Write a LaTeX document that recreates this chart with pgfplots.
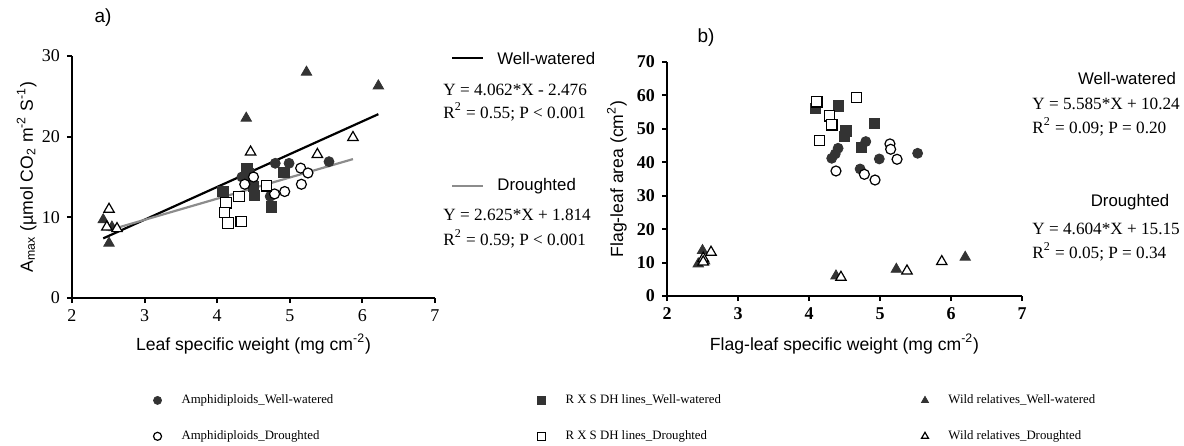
\documentclass[border=0pt]{standalone}
\usepackage{pgfplots}
\pgfplotsset{compat=1.18}
\usepackage{fontspec}
\setmainfont{Liberation Serif}
\newfontfamily\arial{Liberation Sans}
\definecolor{mk}{HTML}{333333}
\definecolor{rg}{HTML}{8C8C8C}

\pgfplotsset{
  panel/.style={
    scale only axis, clip=false,
    axis lines=left, axis line style={-, line width=1pt},
    tick align=outside, major tick length=2.5pt,
    every tick/.style={black, line width=1pt},
    xmin=2, xmax=7, xtick={2,...,7},
    ticklabel style={font=\fontsize{9}{10}\selectfont},
    /pgf/number format/assume math mode=true,
    label style={font=\arial\fontsize{8.8}{10}\selectfont},
  },
  aww/.style={only marks, mark=*, mark size=2.5pt, color=mk, mark options={fill=mk, draw=mk}},
  rww/.style={only marks, mark=square*, mark size=2.6pt, color=mk, mark options={fill=mk, draw=mk}},
  www/.style={only marks, mark=triangle*, mark size=3pt, color=mk, mark options={fill=mk, draw=mk}},
  adr/.style={only marks, mark=*, mark size=2.5pt, color=black, mark options={fill=white, draw=black, line width=0.6pt}},
  rdr/.style={only marks, mark=square*, mark size=2.6pt, color=black, mark options={fill=white, draw=black, line width=0.6pt}},
  wdr/.style={only marks, mark=triangle*, mark size=3pt, color=black, mark options={fill=white, draw=black, line width=0.6pt}},
}

\begin{document}
\begin{tikzpicture}
\path[use as bounding box] (0,0) rectangle (592pt,222.5pt);

% panel a
\begin{axis}[panel,
  at={(36pt,73.5pt)}, anchor=origin, width=181.5pt, height=121pt,
  ymin=0, ymax=30, ytick={0,10,20,30},
  xlabel={Leaf specific weight (mg cm\textsuperscript{-2})},
  ylabel={A\textsubscript{max} (\textmu mol CO\textsubscript{2} m\textsuperscript{-2} S\textsuperscript{-1})},
  xlabel style={at={(axis description cs:0.5,-0.19)}, anchor=center},
  ylabel style={at={(axis description cs:-0.125,0.5)}, anchor=center},
  legend columns=3, legend cell align=left,
  legend image post style={mark size=2pt},
  legend style={draw=none, fill=none, font=\fontsize{6.4}{7}\selectfont,
    at={(axis description cs:0.207,-0.364)}, anchor=north west, row sep=8pt,
    /tikz/every odd column/.append style={column sep=8pt}},
]
\addplot[aww] coordinates {(4.80,16.7) (4.99,16.7) (5.54,16.9) (4.34,15.0) (4.73,12.6) (4.45,15.6)};
\addlegendentry{\makebox[176pt][l]{Amphidiploids\_Well-watered}}
\addplot[rww] coordinates {(4.41,16.1) (4.92,15.6) (4.08,13.2) (4.50,13.8) (4.51,12.7) (4.75,11.3) (4.40,15.2)};
\addlegendentry{\makebox[176pt][l]{R X S DH lines\_Well-watered}}
\addplot[www] coordinates {(5.23,28.0) (4.40,22.3) (2.51,6.8) (2.43,9.7) (6.22,26.3) (2.55,8.8)};
\addlegendentry{Wild relatives\_Well-watered}
\addplot[adr] coordinates {(4.50,15.0) (4.38,14.1) (4.79,12.9) (4.93,13.2) (5.15,16.1) (5.25,15.5) (5.16,14.1)};
\addlegendentry{\makebox[176pt][l]{Amphidiploids\_Droughted}}
\addplot[rdr] coordinates {(4.68,13.9) (4.30,12.6) (4.12,11.8) (4.10,10.6) (4.15,9.3) (4.33,9.5)};
\addlegendentry{\makebox[176pt][l]{R X S DH lines\_Droughted}}
\addplot[wdr] coordinates {(2.51,11.0) (2.48,8.8) (2.62,8.6) (4.46,18.1) (5.38,17.8) (5.87,19.9)};
\addlegendentry{Wild relatives\_Droughted}
\addplot[forget plot, black, line width=1.1pt] coordinates {(2.43,7.39) (6.22,22.79)};
\addplot[forget plot, rg, line width=1.1pt] coordinates {(2.50,8.38) (5.87,17.22)};
\end{axis}

% panel b
\begin{axis}[panel,
  at={(333.5pt,74.5pt)}, anchor=origin, width=177.5pt, height=117pt,
  ymin=0, ymax=70, ytick={0,10,...,70},
  ticklabel style={font=\bfseries\fontsize{9}{10}\selectfont},
  xlabel={Flag-leaf specific weight (mg cm\textsuperscript{-2})},
  ylabel={Flag-leaf area (cm\textsuperscript{2})},
  xlabel style={at={(axis description cs:0.5,-0.205)}, anchor=center},
  ylabel style={at={(axis description cs:-0.141,0.5)}, anchor=center},
]
\addplot[aww] coordinates {(4.41,44.2) (4.37,42.5) (4.32,41.2) (4.80,46.2) (4.99,41.0) (5.53,42.7) (4.72,38.0)};
\addplot[rww] coordinates {(4.09,56.1) (4.41,56.9) (4.52,49.4) (4.50,47.7) (4.92,51.6) (4.74,44.5)};
\addplot[www] coordinates {(4.38,6.0) (5.23,8.0) (6.20,11.6) (2.50,13.6) (2.44,9.6) (2.53,10.5)};
\addplot[adr] coordinates {(5.14,45.5) (5.15,43.9) (5.24,40.9) (4.38,37.4) (4.78,36.4) (4.93,34.7)};
\addplot[rdr] coordinates {(4.11,58.1) (4.67,59.4) (4.29,53.9) (4.32,51.2) (4.15,46.5)};
\addplot[wdr] coordinates {(4.45,5.6) (5.38,7.5) (5.87,10.3) (2.62,13.1) (2.51,11.3) (2.51,10.2)};
\end{axis}

% panel labels
\node[font=\arial\fontsize{9.5}{11}\selectfont] at (51.5pt,213.5pt) {a)};
\node[font=\arial\fontsize{9.5}{11}\selectfont] at (353pt,203.5pt) {b)};

% regression key, panel a
\draw[black, line width=1.1pt] (226pt,193.5pt) -- (241.5pt,193.5pt);
\node[anchor=west, inner sep=0pt, font=\arial\fontsize{8.4}{10}\selectfont] at (248.5pt,193.5pt) {Well-watered};
\node[anchor=west, inner sep=0pt, font=\fontsize{8.6}{10}\selectfont] at (221.5pt,177.5pt) {Y = 4.062*X - 2.476};
\node[anchor=west, inner sep=0pt, font=\fontsize{8.6}{10}\selectfont] at (221.5pt,166.5pt) {R\textsuperscript{2} = 0.55; P < 0.001};
\draw[rg, line width=1.1pt] (226pt,129.5pt) -- (241.5pt,129.5pt);
\node[anchor=west, inner sep=0pt, font=\arial\fontsize{8.4}{10}\selectfont] at (248.5pt,129.5pt) {Droughted};
\node[anchor=west, inner sep=0pt, font=\fontsize{8.6}{10}\selectfont] at (221.5pt,115pt) {Y = 2.625*X + 1.814};
\node[anchor=west, inner sep=0pt, font=\fontsize{8.6}{10}\selectfont] at (221.5pt,103pt) {R\textsuperscript{2} = 0.59; P < 0.001};

% regression key, panel b
\node[inner sep=0pt, font=\arial\fontsize{8.4}{10}\selectfont] at (563.5pt,183.5pt) {Well-watered};
\node[anchor=west, inner sep=0pt, font=\fontsize{8.6}{10}\selectfont] at (516pt,170.5pt) {Y = 5.585*X + 10.24};
\node[anchor=west, inner sep=0pt, font=\fontsize{8.6}{10}\selectfont] at (516pt,159pt) {R\textsuperscript{2} = 0.09; P = 0.20};
\node[inner sep=0pt, font=\arial\fontsize{8.4}{10}\selectfont] at (565pt,121.5pt) {Droughted};
\node[anchor=west, inner sep=0pt, font=\fontsize{8.6}{10}\selectfont] at (516pt,108pt) {Y = 4.604*X + 15.15};
\node[anchor=west, inner sep=0pt, font=\fontsize{8.6}{10}\selectfont] at (516pt,96.5pt) {R\textsuperscript{2} = 0.05; P = 0.34};
\end{tikzpicture}
\end{document}
